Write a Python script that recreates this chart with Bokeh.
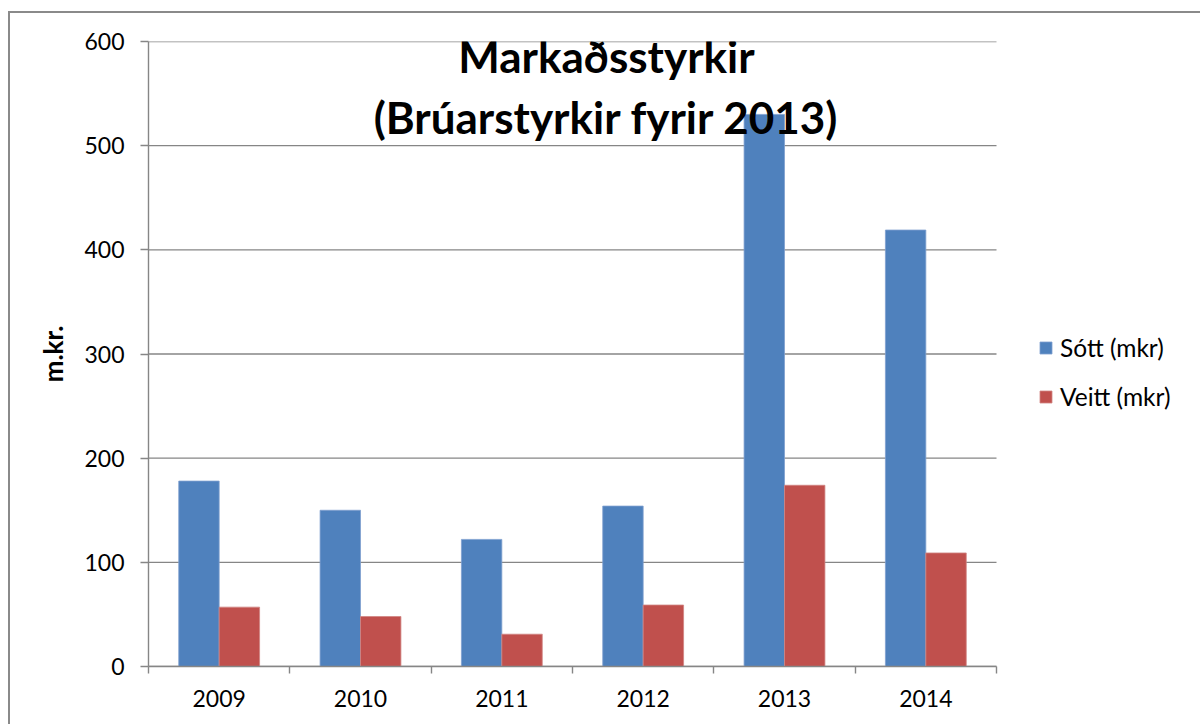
from bokeh.plotting import figure
from bokeh.models import (Range1d, LinearAxis, FixedTicker, CustomJSTickFormatter,
                          Legend, LegendItem, Label, ColumnDataSource, Grid)
from bokeh.transform import dodge
from bokeh.embed import file_html
from bokeh.resources import INLINE

# ---- data ----
years = ["2009", "2010", "2011", "2012", "2013", "2014"]
sott = [178, 150, 122, 154, 530, 419]
veitt = [57, 48, 31, 59, 174, 109]
y_ticks = [0, 100, 200, 300, 400, 500, 600]
series_names = ["Sótt (mkr)", "Veitt (mkr)"]
title_lines = ["Markaðsstyrkir", "(Brúarstyrkir fyrir 2013)"]
y_label = "m.kr."

BLUE = "#4F81BD"
RED = "#C0504D"
GRAY = "#868686"
FONT = "Lato"

n = len(years)
centres = [i + 0.5 for i in range(n)]   # category centres on a 0..n axis

W, H = 1190, 711
LEFT, TOP, BOTTOM = 138, 28, 58
PLOT_PX = 848                       # width of the bar area in pixels
FRAME_PX = W - LEFT                 # frame runs to the right edge (room for legend)

p = figure(width=W, height=H,
           x_range=Range1d(0, n * FRAME_PX / PLOT_PX),
           y_range=Range1d(y_ticks[0], y_ticks[-1]),
           output_backend="svg", toolbar_location=None,
           x_axis_location=None, y_axis_location=None,
           min_border_left=LEFT, min_border_right=0,
           min_border_top=TOP, min_border_bottom=BOTTOM,
           outline_line_color=None, background_fill_color="white",
           border_fill_color="white")
p.styles = {"margin-left": "10px", "margin-top": "13px",
            "outline": "2px solid #8a8a8a", "outline-offset": "0px"}

# remove default grids; horizontal gridlines only over the bar area
p.center = [r for r in p.center if not isinstance(r, Grid)]
ytick = FixedTicker(ticks=y_ticks)
grid_src = ColumnDataSource(dict(y=y_ticks, x0=[0] * len(y_ticks), x1=[n] * len(y_ticks)))
p.segment(x0="x0", x1="x1", y0="y", y1="y", source=grid_src, line_color=GRAY, line_width=1.4)

source = ColumnDataSource(dict(year=years, pos=centres, sott=sott, veitt=veitt))
bw = 0.286
r1 = p.vbar(x=dodge("pos", -bw / 2), top="sott", width=bw, source=source,
            fill_color=BLUE, line_color="#7FA0CF", line_width=0.8)
r2 = p.vbar(x=dodge("pos", bw / 2), top="veitt", width=bw, source=source,
            fill_color=RED, line_color="#D08583", line_width=0.8)

# y axis
yaxis = LinearAxis(ticker=ytick, axis_label=y_label,
                   axis_line_color=GRAY, axis_line_width=1.4,
                   major_tick_line_color=GRAY, major_tick_line_width=1.4,
                   major_tick_out=8, major_tick_in=0,
                   minor_tick_out=0, minor_tick_in=0,
                   major_label_text_font=FONT, major_label_text_font_size="23px",
                   major_label_text_color="black", major_label_standoff=16,
                   axis_label_text_font=FONT, axis_label_text_font_size="26px",
                   axis_label_text_font_style="bold", axis_label_text_color="black",
                   axis_label_standoff=12)
p.add_layout(yaxis, "left")

# x axis: labels at category centres, ticks at category boundaries
xaxis = LinearAxis(ticker=FixedTicker(ticks=centres, minor_ticks=list(range(n + 1))),
                   bounds=(0, n),
                   formatter=CustomJSTickFormatter(args=dict(years=years),
                                                   code="return years[Math.floor(tick)];"),
                   axis_line_color=GRAY, axis_line_width=1.4,
                   major_tick_out=0, major_tick_in=0,
                   minor_tick_out=7, minor_tick_in=0,
                   minor_tick_line_color=GRAY, minor_tick_line_width=1.4,
                   major_label_text_font=FONT, major_label_text_font_size="23px",
                   major_label_text_color="black", major_label_standoff=16)
p.add_layout(xaxis, "below")

# title (two lines, overlapping plot area)
for txt, yy in zip(title_lines, [586, 528]):
    p.add_layout(Label(x=3.24, y=yy, text=txt, text_align="center",
                       text_baseline="alphabetic", text_font=FONT, text_font_size="44px",
                       text_font_style="bold", text_color="black"))

legend = Legend(items=[LegendItem(label=series_names[0], renderers=[r1]),
                       LegendItem(label=series_names[1], renderers=[r2])],
                location=(890, 255), orientation="vertical",
                label_text_font=FONT, label_text_font_size="24.5px", label_text_color="black",
                glyph_width=15, glyph_height=15, label_standoff=7, spacing=20,
                padding=0, margin=0, border_line_color=None, background_fill_alpha=0)
p.add_layout(legend)

open("out.html", "w").write(file_html(p, INLINE))
